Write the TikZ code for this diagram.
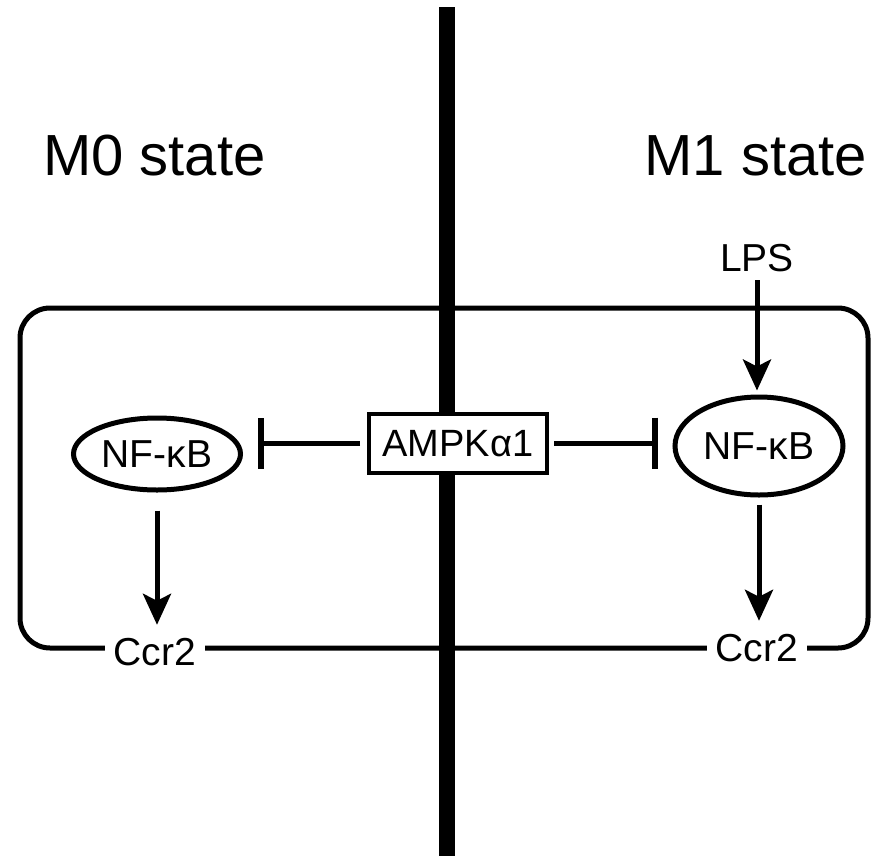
\documentclass[tikz,border=0pt]{standalone}
\usepackage{fontspec}
\setmainfont{Liberation Sans}
\usetikzlibrary{arrows.meta,shapes.geometric}
\begin{document}
\begin{tikzpicture}[x=1pt,y=-1pt,
  title/.style={font=\fontsize{58}{60}\selectfont, inner sep=0pt},
  lbl/.style={font=\fontsize{39}{42}\selectfont, text height=28pt, text depth=0pt, inner ysep=0pt},
  gap/.style={lbl, fill=white, inner xsep=9pt, inner ysep=6pt},
  nfk/.style={ellipse, draw, line width=5pt, inner sep=0pt, font=\fontsize{39}{42}\selectfont},
  actarrow/.style={line width=5pt, -{Stealth[length=31pt,width=28pt,inset=7pt]}},
  inhib/.style={line width=5pt, -{Bar[width=51pt,line width=5.5pt]}},
  frame/.style={line width=5pt, rounded corners=30pt}
]
\useasboundingbox (0,0) rectangle (871,855);
% frame
\draw[frame] (20,308) rectangle (868,648);
\node[gap] (ccrL) at (155,651) {Ccr2};
\node[gap] (ccrR) at (757,647) {Ccr2};
% membrane line
\coordinate (mtop) at (447,7);
\coordinate (mbot) at (447,860);
\draw[line width=16pt] (mtop) -- (mbot);
% titles
\node[title, anchor=base west] (m0) at (43,175) {M0 state};
\node[title, anchor=base east] (m1) at (867,175) {M1 state};
% nodes
\node[draw, line width=4pt, fill=white, minimum width=178pt, minimum height=59pt, inner sep=0pt, font=\fontsize{38}{41}\selectfont] (ampk) at (458,443.5) {AMPKα1};
\node[nfk, minimum width=167pt, minimum height=72pt] (nfL) at (157,454) {NF-κB};
\node[nfk, minimum width=168pt, minimum height=98pt] (nfR) at (759,446) {NF-κB};
\node[lbl, inner xsep=0pt] (lps) at (757,257) {LPS};
% connectors
\draw[inhib, shorten <=7pt, shorten >=15pt] (ampk.west |- 0,443) -- (nfL.east |- 0,443);
\draw[inhib, shorten <=5pt, shorten >=15pt] (ampk.east |- 0,443) -- (nfR.west |- 0,443);
\draw[actarrow, shorten <=18pt, shorten >=6pt] (nfL.south) -- (nfL.south |- ccrL.north);
\draw[actarrow, shorten <=7pt, shorten >=6pt] (nfR.south) -- (nfR.south |- ccrR.north);
\draw[actarrow, shorten <=9pt, shorten >=4pt] (lps.south) -- (lps.south |- nfR.north);
\end{tikzpicture}
\end{document}
